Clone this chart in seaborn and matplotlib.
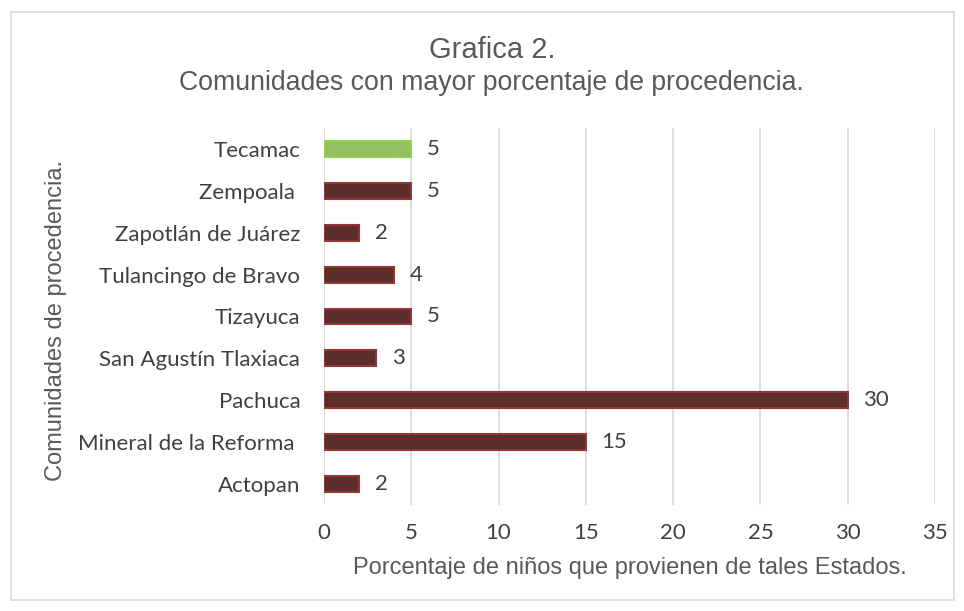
import matplotlib
matplotlib.use("Agg")
import matplotlib.pyplot as plt
import seaborn as sns
import pandas as pd
from matplotlib.patches import Rectangle

communities = [
    "Tecamac",
    "Zempoala ",
    "Zapotlán de Juárez",
    "Tulancingo de Bravo",
    "Tizayuca",
    "San Agustín Tlaxiaca",
    "Pachuca",
    "Mineral de la Reforma ",
    "Actopan",
]
values = [5, 5, 2, 4, 5, 3, 30, 15, 2]
bar_colors = ["#92D050"] + ["#632523"] * 8
edge_colors = ["#92D050"] + ["#943634"] * 8

df = pd.DataFrame({"comunidad": communities, "valor": values})

sns.set_style("white")
plt.rcParams["font.family"] = ["Liberation Sans", "DejaVu Sans"]
tick_font = ["Lato", "DejaVu Sans"]

fig = plt.figure(figsize=(9.64, 6.11), dpi=100)
ax = fig.add_axes([0.336, 0.174, 0.634, 0.616])

sns.barplot(data=df, y="comunidad", x="valor", hue="comunidad",
            palette=bar_colors, legend=False, width=0.38, ax=ax, orient="h")
for patch, ec in zip(ax.patches, edge_colors):
    patch.set_edgecolor(ec)
    patch.set_linewidth(1.5)

ax.set_xlim(0, 35)
ax.set_ylim(8.5, -0.5)
ax.set_xticks(range(0, 36, 5))
ax.grid(axis="x", color="#d9d9d9", linewidth=1.2)
ax.set_axisbelow(True)
for s in ax.spines.values():
    s.set_visible(False)
ax.tick_params(axis="y", length=0, colors="#404040", labelsize=16, pad=17)
ax.tick_params(axis="x", length=0, colors="#404040", labelsize=16, pad=13)
for lbl in ax.get_xticklabels() + ax.get_yticklabels():
    lbl.set_family(tick_font)

for i, v in enumerate(values):
    ax.text(v + 0.9, i, str(v), va="center", ha="left", fontsize=16,
            color="#404040", family=tick_font)

ax.set_xlabel("Porcentaje de niños que provienen de tales Estados.",
              fontsize=17, color="#595959", labelpad=10)
ax.set_ylabel("")
fig.text(0.058, 0.476, "Comunidades de procedencia.", rotation=90,
         ha="center", va="center", fontsize=17, color="#595959")

fig.text(0.511, 0.905, "Grafica 2.", ha="center", va="baseline",
         fontsize=21, color="#595959")
fig.text(0.51, 0.853, "Comunidades con mayor porcentaje de procedencia.",
         ha="center", va="baseline", fontsize=19.2, color="#595959")

fig.patches.append(Rectangle((0.011, 0.018), 0.979, 0.963, transform=fig.transFigure,
                             fill=False, edgecolor="#d9d9d9", linewidth=1.2))

fig.savefig("out.png", dpi=100)
